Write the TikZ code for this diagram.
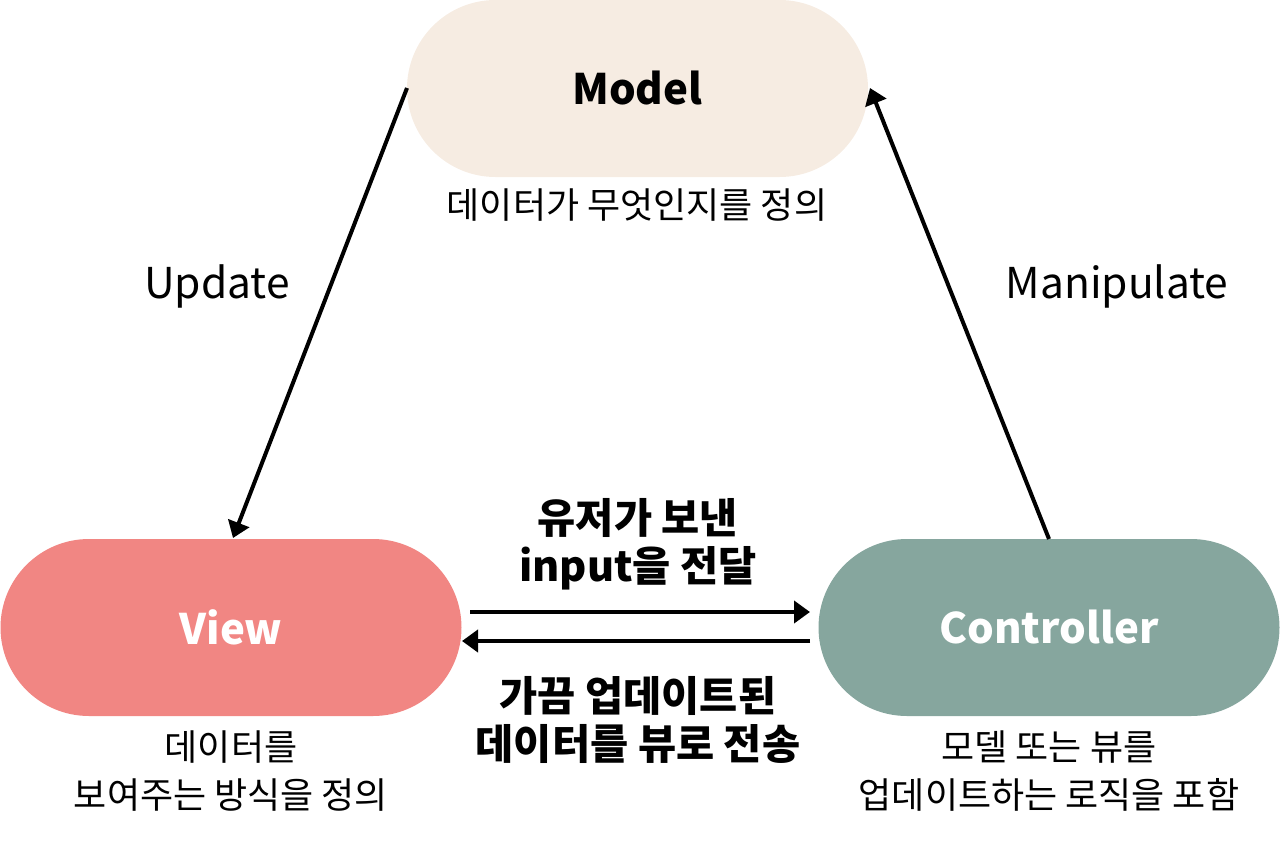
\documentclass[tikz,border=0pt]{standalone}
\usepackage{fontspec}
\setmainfont{Noto Sans CJK KR}
\usetikzlibrary{arrows.meta,shapes.misc}
\definecolor{modelc}{HTML}{F6ECE2}
\definecolor{viewc}{HTML}{F18683}
\definecolor{ctrlc}{HTML}{86A69E}
\tikzset{
  capsule/.style={rounded rectangle, minimum width=461pt, minimum height=177pt, inner sep=0pt, draw=none},
  conn/.style={line width=4pt, -{Triangle[length=16pt,width=22pt]}},
  title/.style={font=\fontsize{42}{50}\selectfont\bfseries},
  desc/.style={font=\fontsize{36}{48}\selectfont, align=center},
  lab/.style={font=\fontsize{42.5}{50}\selectfont},
  mid/.style={font=\fontsize{41.5}{48}\selectfont\bfseries, align=center}
}
\begin{document}
\begin{tikzpicture}[x=1pt,y=-1pt]
\useasboundingbox (0,0) rectangle (1280,841);
\node[capsule, fill=modelc] (model) at (637.5,88.5) {};
\node[capsule, fill=viewc] (view) at (231,627.5) {};
\node[capsule, fill=ctrlc] (ctrl) at (1049,627.5) {};
\node[title] (modelt) at (model.center) {Model};
\node[title, text=white] (viewt) at (view.center) {View};
\node[title, text=white] (ctrlt) at (ctrl.center) {Controller};
\node[desc] (modeld) at (637,205) {데이터가 무엇인지를 정의};
\node[desc] (viewd) at (231,771) {데이터를\\보여주는 방식을 정의};
\node[desc] (ctrld) at (1049,771) {모델 또는 뷰를\\업데이트하는 로직을 포함};
\node[lab] (upd) at (217,286) {Update};
\node[lab] (man) at (1117,286) {Manipulate};
\node[mid] (send) at (638,544) {유저가 보낸\\input을 전달};
\node[mid] (recv) at (638,720) {가끔 업데이트된\\데이터를 뷰로 전송};
\coordinate (mL) at (407,88);
\coordinate (mR) at (870,88);
\coordinate (vT) at (233,538);
\coordinate (cT) at (1049,539);
\coordinate (vR1) at (470,612);
\coordinate (cL1) at (810,612);
\coordinate (cL2) at (810,641);
\coordinate (vR2) at (462,641);
\draw[conn] (mL) -- (vT);
\draw[conn] (cT) -- (mR);
\draw[conn] (vR1) -- (cL1);
\draw[conn] (cL2) -- (vR2);
\end{tikzpicture}
\end{document}
